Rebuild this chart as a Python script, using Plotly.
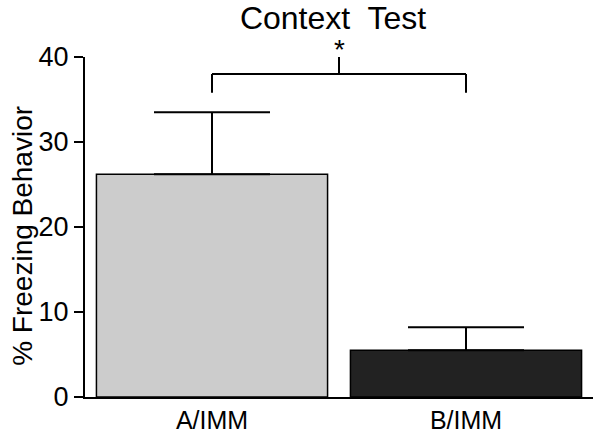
import plotly.graph_objects as go

categories = ["A/IMM", "B/IMM"]
means = [26.2, 5.5]
sem = [7.3, 2.7]
bar_colors = ["#cccccc", "#222222"]
y_ticks = [0, 10, 20, 30, 40]
title_text = "Context\u00a0 Test"
y_title = "% Freezing Behavior"
sig_label = "*"
sig_level = 38
sig_drop = 35.8
sig_top = 40

FONT = "Liberation Sans, Arial, sans-serif"

fig = go.Figure()
fig.add_trace(go.Bar(
    x=categories, y=means,
    marker=dict(color=bar_colors, line=dict(color="black", width=1.5)),
    width=0.91,
    error_y=dict(type="data", array=sem, arrayminus=[0, 0], symmetric=False,
                 color="black", thickness=2, width=58),
))

# significance bracket
line = dict(color="black", width=2)
fig.add_shape(type="line", xref="x", yref="y", x0=0, x1=1, y0=sig_level, y1=sig_level, line=line)
fig.add_shape(type="line", xref="x", yref="y", x0=0, x1=0, y0=sig_level, y1=sig_drop, line=line)
fig.add_shape(type="line", xref="x", yref="y", x0=1, x1=1, y0=sig_level, y1=sig_drop, line=line)
fig.add_shape(type="line", xref="x", yref="y", x0=0.5, x1=0.5, y0=sig_level, y1=sig_top, line=line)
fig.add_annotation(x=0.5, y=sig_top, xref="x", yref="y", text=sig_label, showarrow=False,
                   yanchor="bottom", yshift=-10, font=dict(size=28, color="black", family=FONT))

# y-axis title
fig.add_annotation(x=0, y=0.474, xref="paper", yref="paper", text=y_title, showarrow=False,
                   textangle=-90, xanchor="center", yanchor="middle", xshift=-62,
                   font=dict(size=28, color="black", family=FONT))

fig.update_layout(
    width=600, height=435,
    margin=dict(l=85, r=7, t=57, b=38),
    plot_bgcolor="white", paper_bgcolor="white",
    showlegend=False,
    font=dict(family=FONT, color="black"),
    title=dict(text=title_text, x=0.555, xanchor="center", y=0.958, yanchor="middle",
               font=dict(size=32, color="black", family=FONT)),
    xaxis=dict(type="category", range=[-0.5, 1.5], showline=True, linecolor="black", linewidth=2,
               ticks="", tickfont=dict(size=25, color="black"), showgrid=False, zeroline=False,
               automargin=False),
    yaxis=dict(range=[0, 40], tickvals=y_ticks, showline=True, linecolor="black", linewidth=2,
               ticks="outside", ticklen=9, tickwidth=2, tickcolor="black",
               tickfont=dict(size=27, color="black"), showgrid=False, zeroline=False,
               automargin=False),
)
fig.write_html("out.html", config={"displayModeBar": False, "staticPlot": True},
               post_script="document.body.style.margin='0';document.body.style.overflow='hidden';")
